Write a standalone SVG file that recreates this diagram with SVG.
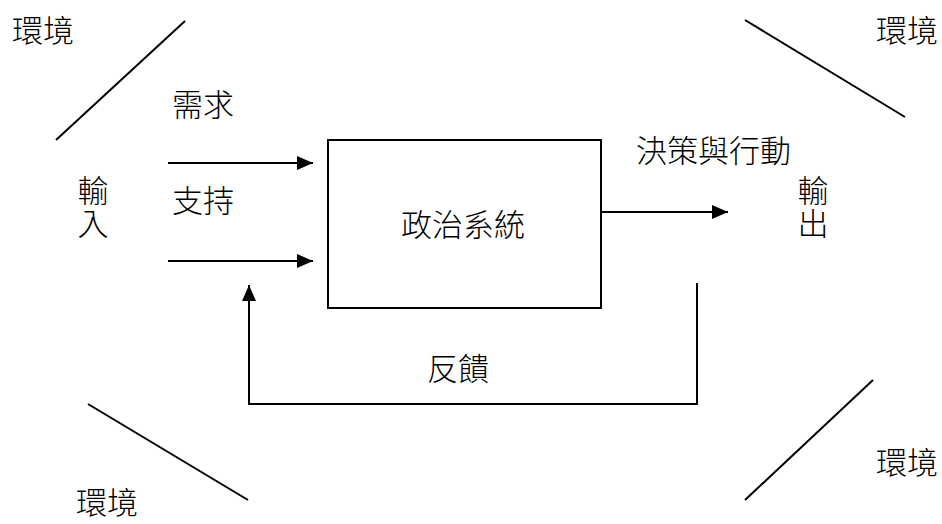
<svg xmlns="http://www.w3.org/2000/svg" width="942" height="524" viewBox="0 0 942 524">
  <style>
    .t { font-family: "Noto Sans CJK TC", "Noto Sans CJK SC", sans-serif; font-size: 31px; font-weight: 300; fill: #000; }
    .v { writing-mode: vertical-rl; letter-spacing: 2px; }
    .ln { stroke: #000; stroke-width: 2; fill: none; }
    .box { stroke: #000; stroke-width: 2; fill: #fff; }
  </style>
  <defs>
    <marker id="arr" markerUnits="userSpaceOnUse" markerWidth="16" markerHeight="14" refX="16" refY="7" orient="auto">
      <polygon points="0,0 16,7 0,14" fill="#000"/>
    </marker>
  </defs>
  <rect width="942" height="524" fill="#fff"/>

  <g id="environment-lines">
    <line class="ln" x1="185" y1="21" x2="56" y2="140"/>
    <line class="ln" x1="745" y1="20" x2="905" y2="117"/>
    <line class="ln" x1="88" y1="404" x2="248" y2="500"/>
    <line class="ln" x1="873" y1="380" x2="745" y2="500"/>
  </g>

  <g id="connectors">
    <path id="demand-arrow" class="ln" d="M168,163 H313" marker-end="url(#arr)"/>
    <path id="support-arrow" class="ln" d="M168,261 H313" marker-end="url(#arr)"/>
    <path id="output-arrow" class="ln" d="M601,212 H728" marker-end="url(#arr)"/>
    <path id="feedback-arrow" class="ln" d="M697,283 V404 H249 V285" marker-end="url(#arr)"/>
  </g>

  <g id="political-system">
    <rect class="box" x="328" y="140" width="273" height="168"/>
    <text class="t" x="401" y="236">政治系統</text>
  </g>

  <g id="env-tl"><text class="t" x="12" y="42">環境</text></g>
  <g id="env-tr"><text class="t" x="876" y="42">環境</text></g>
  <g id="env-bl"><text class="t" x="76" y="514">環境</text></g>
  <g id="env-br"><text class="t" x="876" y="474">環境</text></g>

  <g id="label-demand"><text class="t" x="172" y="116">需求</text></g>
  <g id="label-support"><text class="t" x="172" y="212">支持</text></g>
  <g id="label-input"><text class="t v" x="93" y="175">輸入</text></g>
  <g id="label-decision"><text class="t" x="636" y="162">決策與行動</text></g>
  <g id="label-output"><text class="t v" x="813" y="175">輸出</text></g>
  <g id="label-feedback"><text class="t" x="427" y="380">反饋</text></g>
</svg>
